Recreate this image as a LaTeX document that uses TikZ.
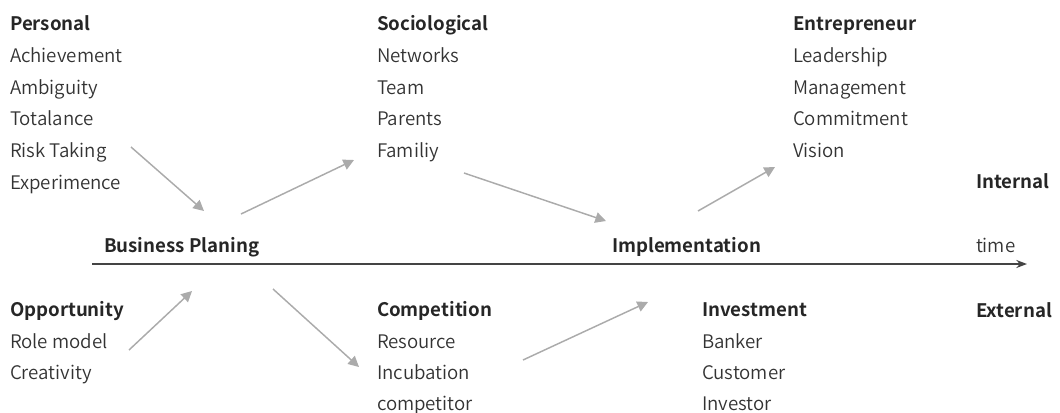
\documentclass[tikz,border=0pt]{standalone}
\usepackage{fontspec}
\setmainfont{Noto Sans CJK JP DemiLight}[BoldFont={Noto Sans CJK JP Bold}]
\usetikzlibrary{arrows.meta}
\definecolor{txt}{HTML}{333333}
\definecolor{head}{HTML}{262626}
\definecolor{flow}{HTML}{ABABAB}
\definecolor{axis}{HTML}{444444}
\begin{document}
\begin{tikzpicture}[x=0.75pt,y=-0.75pt,
  item/.style={anchor=base west,inner sep=0pt,outer sep=0pt,text=txt,font=\fontsize{14}{16}\selectfont},
  heading/.style={item,text=head,font=\fontsize{14}{16}\selectfont\bfseries},
  flowarrow/.style={draw=flow,line width=1.1pt,-{Triangle[length=8pt,width=8pt]}},
  timeaxis/.style={draw=axis,line width=1.4pt,-{Stealth[length=8pt,width=6pt]}}]
\useasboundingbox (0,0) rectangle (1060,412);
% personal factors
\node[heading] (personal) at (10,30) {Personal};
\node[item] (achv) at (10,62) {Achievement};
\node[item] (ambg) at (10,94) {Ambiguity};
\node[item] (totl) at (10,125) {Totalance};
\node[item] (risk) at (10,157) {Risk Taking};
\node[item] (expr) at (10,189) {Experimence};
% sociological factors
\node[heading] (socio) at (377,30) {Sociological};
\node[item] (netw) at (377,62) {Networks};
\node[item] (team) at (377,94) {Team};
\node[item] (prnt) at (377,125) {Parents};
\node[item] (famy) at (377,157) {Familiy};
% entrepreneur
\node[heading] (entre) at (793,30) {Entrepreneur};
\node[item] (lead) at (793,62) {Leadership};
\node[item] (mgmt) at (793,94) {Management};
\node[item] (comm) at (793,125) {Commitment};
\node[item] (visn) at (793,157) {Vision};
% side labels and stages
\node[heading] (internal) at (976,188) {Internal};
\node[heading] (external) at (976,317) {External};
\node[item] (time) at (976,252) {time};
\node[heading] (bplan) at (104,252) {Business Planing};
\node[heading] (impl) at (612,252) {Implementation};
% opportunity
\node[heading] (oppo) at (10,316) {Opportunity};
\node[item] (role) at (10,348) {Role model};
\node[item] (crea) at (10,379) {Creativity};
% competition
\node[heading] (compet) at (377,316) {Competition};
\node[item] (reso) at (377,348) {Resource};
\node[item] (incu) at (377,379) {Incubation};
\node[item] (cmpt) at (377,410) {competitor};
% investment
\node[heading] (invest) at (702,316) {Investment};
\node[item] (bank) at (702,348) {Banker};
\node[item] (cust) at (702,379) {Customer};
\node[item] (invr) at (702,410) {Investor};
% time axis
\coordinate (t0) at (92,264);
\coordinate (t1) at (1027,264);
\draw[timeaxis] (t0) -- (t1);
% flow connectors
\coordinate (a1s) at (131,147); \coordinate (a1e) at (204,211);
\coordinate (a2s) at (241,214); \coordinate (a2e) at (354,160);
\coordinate (a3s) at (464,173); \coordinate (a3e) at (606,221);
\coordinate (a4s) at (698,211); \coordinate (a4e) at (775,167);
\coordinate (a5s) at (129,350); \coordinate (a5e) at (192,291);
\coordinate (a6s) at (273,289); \coordinate (a6e) at (359,367);
\coordinate (a7s) at (523,360); \coordinate (a7e) at (648,302);
\draw[flowarrow] (a1s) -- (a1e);
\draw[flowarrow] (a2s) -- (a2e);
\draw[flowarrow] (a3s) -- (a3e);
\draw[flowarrow] (a4s) -- (a4e);
\draw[flowarrow] (a5s) -- (a5e);
\draw[flowarrow] (a6s) -- (a6e);
\draw[flowarrow] (a7s) -- (a7e);
\end{tikzpicture}
\end{document}
